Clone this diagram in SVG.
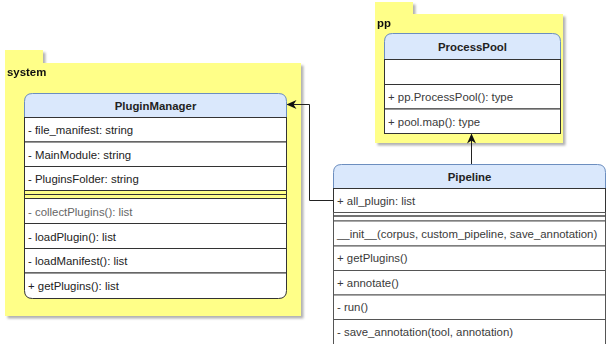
<svg xmlns="http://www.w3.org/2000/svg" width="607" height="344" viewBox="0 0 607 344">
<style>
.pkg{fill:#ffff88;stroke:none}
.hdr{fill:#dae8fc;stroke:#6c8ebf;stroke-width:1}
.row{fill:#ffffff;stroke:#333;stroke-width:1}
.sep{stroke:#333;stroke-width:1;fill:none}
.t{font-family:"Liberation Sans",Arial,sans-serif;font-size:11.4px;fill:#222}
.g{fill:#666}
.p{fill:#3a3a3a}
.b{font-weight:bold;text-anchor:middle;fill:#222}
.lbl{font-family:"Liberation Sans",Arial,sans-serif;font-size:11.4px;font-weight:bold;fill:#111}
.edge{fill:none;stroke:#222;stroke-width:1}
</style>
<defs>
<filter id="sh" x="-5%" y="-5%" width="115%" height="115%">
<feDropShadow dx="2.5" dy="2.5" stdDeviation="1.2" flood-color="#000" flood-opacity="0.3"/>
</filter>
<marker id="arr" viewBox="0 0 10 10" refX="9" refY="5" markerWidth="10" markerHeight="10" markerUnits="userSpaceOnUse" orient="auto">
<path d="M0,0.5 L10,5 L0,9.5 L3,5 Z" fill="#111"/>
</marker>
</defs>

<g id="pkg-system" filter="url(#sh)">
<rect class="pkg" x="5" y="50" width="38" height="13"/>
<rect class="pkg" x="5" y="63" width="296" height="253"/>
<text class="lbl" x="7" y="76">system</text>
</g>

<g id="pkg-pp" filter="url(#sh)">
<rect class="pkg" x="375" y="2" width="38" height="12"/>
<rect class="pkg" x="375" y="14" width="188" height="129"/>
<text class="lbl" x="377" y="27">pp</text>
</g>

<g id="PluginManager">
<path class="hdr" d="M24.5,117.5 V101.5 Q24.5,93.5 32.5,93.5 H278.5 Q286.5,93.5 286.5,101.5 V117.5 Z"/>
<rect class="row" x="24.5" y="117.5" width="262" height="24.5"/>
<rect class="row" x="24.5" y="142" width="262" height="24.5"/>
<rect class="row" x="24.5" y="166.5" width="262" height="24"/>
<line class="sep" x1="24.5" y1="194.5" x2="286.5" y2="194.5"/>
<line class="sep" x1="24.5" y1="190.5" x2="24.5" y2="198.5"/>
<line class="sep" x1="286.5" y1="190.5" x2="286.5" y2="198.5"/>
<rect class="row" x="24.5" y="198.5" width="262" height="25"/>
<rect class="row" x="24.5" y="223.5" width="262" height="25"/>
<rect class="row" x="24.5" y="248.5" width="262" height="24.5"/>
<path class="row" d="M24.5,273 H286.5 V290.5 Q286.5,298.5 278.5,298.5 H32.5 Q24.5,298.5 24.5,290.5 Z"/>
<text class="t b" x="155.5" y="109.5">PluginManager</text>
<text class="t" x="28" y="134">- file_manifest: string</text>
<text class="t" x="28" y="158.5">- MainModule: string</text>
<text class="t" x="28" y="183">- PluginsFolder: string</text>
<text class="t g" x="28" y="215.5">- collectPlugins(): list</text>
<text class="t" x="28" y="240.5">- loadPlugin(): list</text>
<text class="t" x="28" y="265">- loadManifest(): list</text>
<text class="t" x="28" y="289.5">+ getPlugins(): list</text>
</g>

<g id="ProcessPool">
<path class="hdr" d="M384.5,59.5 V41.5 Q384.5,33.5 392.5,33.5 H552.5 Q560.5,33.5 560.5,41.5 V59.5 Z"/>
<rect class="row" x="384.5" y="59.5" width="176" height="25"/>
<rect class="row" x="384.5" y="84.5" width="176" height="24.5"/>
<rect class="row" x="384.5" y="109" width="176" height="24.5"/>
<text class="t b" x="472.5" y="50.5">ProcessPool</text>
<text class="t p" x="388" y="101">+ pp.ProcessPool(): type</text>
<text class="t p" x="388" y="125.5">+ pool.map(): type</text>
</g>

<g id="Pipeline">
<path class="hdr" d="M333.5,188.5 V172.5 Q333.5,164.5 341.5,164.5 H597.5 Q605.5,164.5 605.5,172.5 V188.5 Z"/>
<rect class="row" x="333.5" y="188.5" width="272" height="24"/>
<rect x="333.5" y="212.5" width="272" height="8.5" fill="#ffffff" stroke="#555" stroke-width="1"/>
<line x1="333.5" y1="216" x2="605.5" y2="216" stroke="#444" stroke-width="1.5"/>
<rect class="row" x="333.5" y="221" width="272" height="25" style="stroke:#555"/>
<rect class="row" x="333.5" y="246" width="272" height="24.5" style="stroke:#555"/>
<rect class="row" x="333.5" y="270.5" width="272" height="24.5" style="stroke:#555"/>
<rect class="row" x="333.5" y="295" width="272" height="24.5" style="stroke:#555"/>
<rect class="row" x="333.5" y="319.5" width="272" height="30" style="stroke:#555"/>
<text class="t b" x="469.5" y="180.5">Pipeline</text>
<text class="t p" x="337" y="205">+ all_plugin: list</text>
<text class="t p" x="337" y="237.5">__init__(corpus, custom_pipeline, save_annotation)</text>
<text class="t p" x="337" y="262">+ getPlugins()</text>
<text class="t p" x="337" y="286.5">+ annotate()</text>
<text class="t p" x="337" y="311">- run()</text>
<text class="t p" x="337" y="335.5">- save_annotation(tool, annotation)</text>
</g>

<g id="connectors">
<path class="edge" d="M333,200.5 H309.5 V104.5 H287.5" marker-end="url(#arr)"/>
<path class="edge" d="M471.5,164 V134.5" marker-end="url(#arr)"/>
</g>
</svg>
